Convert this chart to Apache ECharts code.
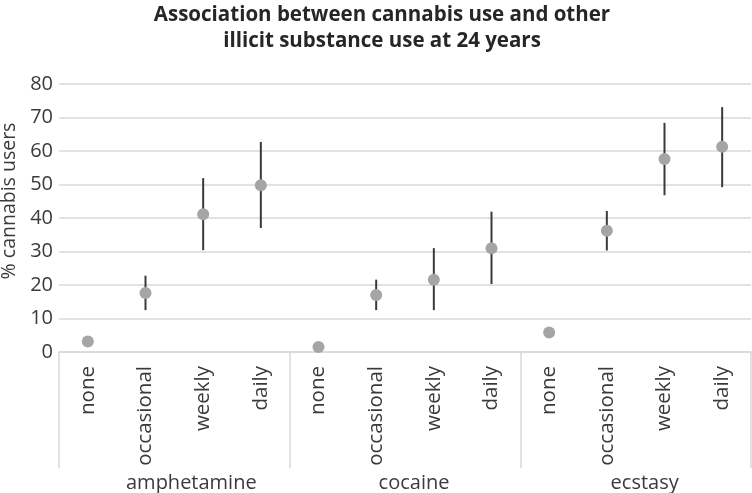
<!DOCTYPE html>
<html>
<head>
<meta charset="utf-8">
<script src="https://cdn.jsdelivr.net/npm/echarts@6/dist/echarts.min.js"></script>
<style>html,body{margin:0;padding:0;background:#fff}#c{width:752px;height:493px}</style>
</head>
<body>
<div id="c"></div>
<script>
var groups = ['amphetamine', 'cocaine', 'ecstasy'];
var levels = ['none', 'occasional', 'weekly', 'daily'];
var amphetamineMean = [3.1, 17.6, 41.1, 49.8];
var amphetamineLow  = [null, 12.5, 30.4, 37.0];
var amphetamineHigh = [null, 22.8, 51.9, 62.7];
var cocaineMean = [1.5, 17.0, 21.6, 31.0];
var cocaineLow  = [null, 12.5, 12.5, 20.3];
var cocaineHigh = [null, 21.6, 31.0, 41.9];
var ecstasyMean = [5.8, 36.2, 57.6, 61.3];
var ecstasyLow  = [null, 30.3, 46.8, 49.2];
var ecstasyHigh = [null, 42.1, 68.4, 73.1];
var yTicks = [0, 10, 20, 30, 40, 50, 60, 70, 80];

var means = [amphetamineMean, cocaineMean, ecstasyMean];
var lows = [amphetamineLow, cocaineLow, ecstasyLow];
var highs = [amphetamineHigh, cocaineHigh, ecstasyHigh];

var cats = [], pts = [], errs = [];
groups.forEach(function (g, gi) {
  levels.forEach(function (l, li) {
    var idx = cats.length;
    cats.push(l);
    pts.push([idx, means[gi][li]]);
    if (lows[gi][li] != null) errs.push([idx, lows[gi][li], highs[gi][li]]);
  });
});

var FONT = 'Open Sans';
var TXT = '#3a3a3a';
var GRIDC = '#d9d9d9';
var groupPad = [[0, 0, 0, 34], [0, 0, 0, 18], [0, 0, 0, 18]];

var chart = echarts.init(document.getElementById('c'), null, {renderer: 'canvas'});
chart.setOption({
  animation: false,
  backgroundColor: '#fff',
  title: {
    text: 'Association between cannabis use and other\nillicit substance use at 24 years',
    left: 377, top: -3, textAlign: 'center',
    textStyle: {fontFamily: FONT, fontSize: 20.5, fontWeight: 'bold', color: '#262626', lineHeight: 26}
  },
  grid: {left: 59, right: 1, top: 84, bottom: 141, containLabel: false, outerBoundsMode: 'none'},
  xAxis: [{
    type: 'category', data: cats, position: 'bottom',
    axisLine: {show: true, lineStyle: {color: GRIDC, width: 1.5}},
    axisTick: {show: false},
    axisLabel: {interval: 0, rotate: 90, margin: 14, fontFamily: FONT, fontSize: 20.5, color: TXT}
  }, {
    type: 'category', data: groups.map(function (g, i) { return {value: g, textStyle: {padding: groupPad[i]}}; }),
    position: 'bottom', offset: 0,
    axisLine: {show: false},
    axisTick: {show: true, interval: 0, length: 116, lineStyle: {color: GRIDC, width: 1.5}},
    axisLabel: {interval: 0, margin: 121, fontFamily: FONT, fontSize: 20, color: TXT}
  }],
  yAxis: {
    type: 'value', min: yTicks[0], max: yTicks[yTicks.length - 1], interval: 10,
    name: '% cannabis users', nameLocation: 'middle', nameGap: 36,
    nameTextStyle: {fontFamily: FONT, fontSize: 19.5, color: TXT, padding: [0, 0, 0, 34]},
    axisLine: {show: false}, axisTick: {show: false},
    axisLabel: {margin: 6, fontFamily: FONT, fontSize: 20, color: TXT},
    splitLine: {show: true, lineStyle: {color: GRIDC, width: 1.5}}
  },
  series: [{
    type: 'custom', xAxisIndex: 0, z: 2,
    data: errs,
    encode: {x: 0, y: [1, 2]},
    renderItem: function (params, api) {
      var x = api.value(0);
      var p1 = api.coord([x, api.value(1)]);
      var p2 = api.coord([x, api.value(2)]);
      return {type: 'line', shape: {x1: p1[0], y1: p1[1], x2: p2[0], y2: p2[1]},
              style: {stroke: '#3a3a3a', lineWidth: 2}};
    }
  }, {
    type: 'scatter', xAxisIndex: 0, z: 3,
    data: pts, symbol: 'circle', symbolSize: 12,
    itemStyle: {color: '#a5a5a5', opacity: 1}
  }]
});
</script>
</body>
</html>
